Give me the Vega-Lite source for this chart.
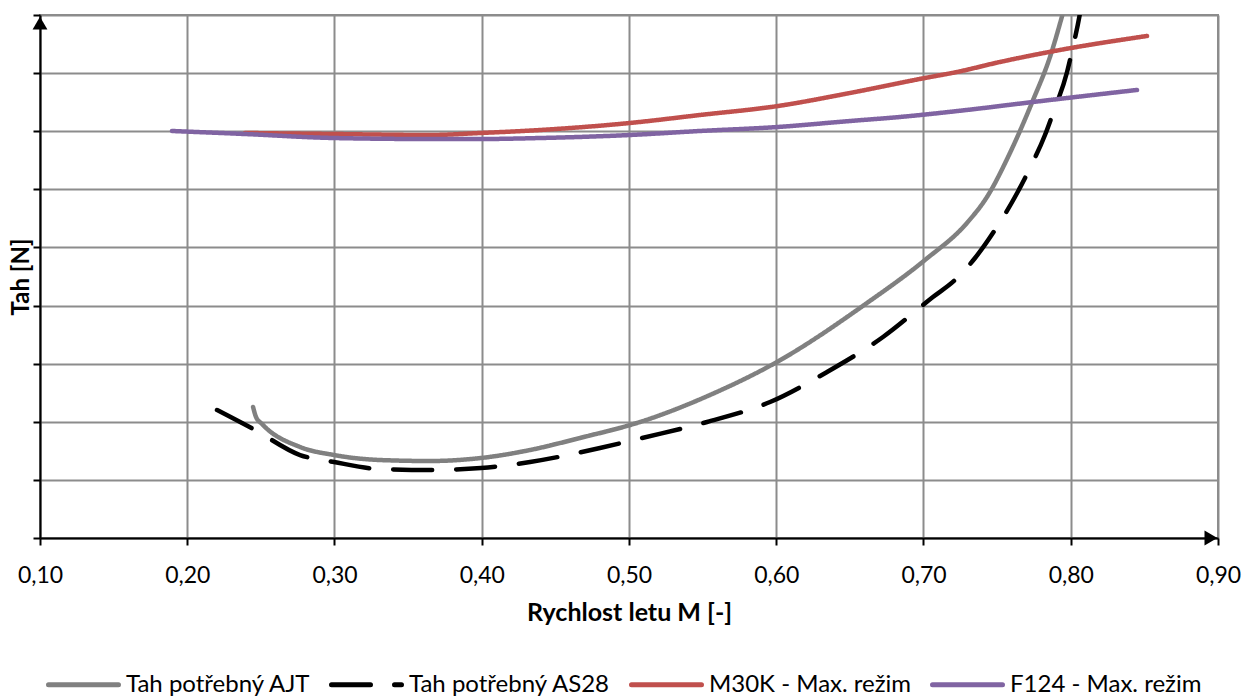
{
  "$schema": "https://vega.github.io/schema/vega-lite/v6.json",
  "width": 1178,
  "height": 523,
  "autosize": {"type": "none"},
  "padding": {"left": 40, "top": 15, "right": 28, "bottom": 158},
  "background": "white",
  "config": {
    "view": {"stroke": "#8c8c8c", "strokeWidth": 2},
    "font": "Lato",
    "axis": {
      "gridColor": "#8c8c8c",
      "gridWidth": 2,
      "gridOpacity": 1,
      "domainColor": "black",
      "domainWidth": 2,
      "tickColor": "black",
      "tickWidth": 2,
      "tickSize": 7,
      "labelFont": "Lato",
      "titleFont": "Lato",
      "labelColor": "black",
      "titleColor": "black"
    }
  },
  "layer": [
    {
      "data": {
        "values": [
          {"series": "Tah potřebný AJT", "M": 0.2447, "T": 2.254},
          {"series": "Tah potřebný AJT", "M": 0.2467, "T": 2.082},
          {"series": "Tah potřebný AJT", "M": 0.2508, "T": 1.962},
          {"series": "Tah potřebný AJT", "M": 0.2766, "T": 1.566},
          {"series": "Tah potřebný AJT", "M": 0.2997, "T": 1.428},
          {"series": "Tah potřebný AJT", "M": 0.3309, "T": 1.342},
          {"series": "Tah potřebný AJT", "M": 0.3649, "T": 1.325},
          {"series": "Tah potřebný AJT", "M": 0.3995, "T": 1.377},
          {"series": "Tah potřebný AJT", "M": 0.4328, "T": 1.514},
          {"series": "Tah potřebný AJT", "M": 0.4667, "T": 1.721},
          {"series": "Tah potřebný AJT", "M": 0.5075, "T": 1.996},
          {"series": "Tah potřebný AJT", "M": 0.555, "T": 2.461},
          {"series": "Tah potřebný AJT", "M": 0.6005, "T": 3.029},
          {"series": "Tah potřebný AJT", "M": 0.6616, "T": 4.044},
          {"series": "Tah potřebný AJT", "M": 0.701, "T": 4.784},
          {"series": "Tah potřebný AJT", "M": 0.7295, "T": 5.421},
          {"series": "Tah potřebný AJT", "M": 0.7431, "T": 5.868},
          {"series": "Tah potřebný AJT", "M": 0.7587, "T": 6.625},
          {"series": "Tah potřebný AJT", "M": 0.7744, "T": 7.537},
          {"series": "Tah potřebný AJT", "M": 0.7859, "T": 8.277},
          {"series": "Tah potřebný AJT", "M": 0.7947, "T": 9.034},
          {"series": "Tah potřebný AJT", "M": 0.7981, "T": 9.345},
          {"series": "Tah potřebný AS28", "M": 0.2202, "T": 2.203},
          {"series": "Tah potřebný AS28", "M": 0.246, "T": 1.859},
          {"series": "Tah potřebný AS28", "M": 0.2766, "T": 1.428},
          {"series": "Tah potřebný AS28", "M": 0.2997, "T": 1.308},
          {"series": "Tah potřebný AS28", "M": 0.3309, "T": 1.187},
          {"series": "Tah potřebný AS28", "M": 0.3649, "T": 1.17},
          {"series": "Tah potřebný AS28", "M": 0.3995, "T": 1.205},
          {"series": "Tah potřebný AS28", "M": 0.4328, "T": 1.308},
          {"series": "Tah potřebný AS28", "M": 0.4803, "T": 1.549},
          {"series": "Tah potřebný AS28", "M": 0.5088, "T": 1.721},
          {"series": "Tah potřebný AS28", "M": 0.553, "T": 1.996},
          {"series": "Tah potřebný AS28", "M": 0.5958, "T": 2.34},
          {"series": "Tah potřebný AS28", "M": 0.6345, "T": 2.857},
          {"series": "Tah potřebný AS28", "M": 0.6725, "T": 3.459},
          {"series": "Tah potřebný AS28", "M": 0.7064, "T": 4.147},
          {"series": "Tah potřebný AS28", "M": 0.7214, "T": 4.44},
          {"series": "Tah potřebný AS28", "M": 0.735, "T": 4.818},
          {"series": "Tah potřebný AS28", "M": 0.7485, "T": 5.3},
          {"series": "Tah potřebný AS28", "M": 0.7621, "T": 5.868},
          {"series": "Tah potřebný AS28", "M": 0.7723, "T": 6.367},
          {"series": "Tah potřebný AS28", "M": 0.7825, "T": 6.935},
          {"series": "Tah potřebný AS28", "M": 0.788, "T": 7.314},
          {"series": "Tah potřebný AS28", "M": 0.7975, "T": 8.019},
          {"series": "Tah potřebný AS28", "M": 0.8015, "T": 8.45},
          {"series": "Tah potřebný AS28", "M": 0.8063, "T": 9.034},
          {"series": "Tah potřebný AS28", "M": 0.8083, "T": 9.345},
          {"series": "M30K - Max. režim", "M": 0.2392, "T": 6.97},
          {"series": "M30K - Max. režim", "M": 0.2997, "T": 6.952},
          {"series": "M30K - Max. režim", "M": 0.3649, "T": 6.935},
          {"series": "M30K - Max. režim", "M": 0.3995, "T": 6.97},
          {"series": "M30K - Max. režim", "M": 0.4396, "T": 7.021},
          {"series": "M30K - Max. režim", "M": 0.5007, "T": 7.142},
          {"series": "M30K - Max. režim", "M": 0.5482, "T": 7.279},
          {"series": "M30K - Max. režim", "M": 0.6012, "T": 7.434},
          {"series": "M30K - Max. režim", "M": 0.6501, "T": 7.658},
          {"series": "M30K - Max. režim", "M": 0.701, "T": 7.916},
          {"series": "M30K - Max. režim", "M": 0.7227, "T": 8.019},
          {"series": "M30K - Max. režim", "M": 0.7519, "T": 8.191},
          {"series": "M30K - Max. režim", "M": 0.7927, "T": 8.398},
          {"series": "M30K - Max. režim", "M": 0.8518, "T": 8.639},
          {"series": "F124 - Max. režim", "M": 0.1896, "T": 7.004},
          {"series": "F124 - Max. režim", "M": 0.2392, "T": 6.952},
          {"series": "F124 - Max. režim", "M": 0.2997, "T": 6.883},
          {"series": "F124 - Max. režim", "M": 0.3649, "T": 6.866},
          {"series": "F124 - Max. režim", "M": 0.3995, "T": 6.866},
          {"series": "F124 - Max. režim", "M": 0.4396, "T": 6.883},
          {"series": "F124 - Max. režim", "M": 0.5007, "T": 6.935},
          {"series": "F124 - Max. režim", "M": 0.5482, "T": 7.004},
          {"series": "F124 - Max. režim", "M": 0.6012, "T": 7.073},
          {"series": "F124 - Max. režim", "M": 0.6501, "T": 7.176},
          {"series": "F124 - Max. režim", "M": 0.684, "T": 7.245},
          {"series": "F124 - Max. režim", "M": 0.7295, "T": 7.366},
          {"series": "F124 - Max. režim", "M": 0.7744, "T": 7.503},
          {"series": "F124 - Max. režim", "M": 0.845, "T": 7.71}
        ]
      },
      "mark": {"type": "line", "strokeWidth": 4.5, "strokeCap": "round", "interpolate": "monotone", "clip": true},
      "encoding": {
        "x": {
          "field": "M", "type": "quantitative",
          "scale": {"domain": [0.1, 0.9], "nice": false, "zero": false},
          "axis": {
            "values": [0.1, 0.2, 0.3, 0.4, 0.5, 0.6, 0.7, 0.8, 0.9],
            "labelExpr": "replace(format(datum.value, '.2f'), '.', ',')",
            "labelFlush": false,
            "labelFontSize": 23,
            "labelPadding": 19,
            "title": "Rychlost letu M [-]",
            "titleFontSize": 25,
            "titleFontWeight": "bold",
            "titlePadding": 13
          }
        },
        "y": {
          "field": "T", "type": "quantitative",
          "scale": {"domain": [0, 9], "nice": false},
          "axis": {
            "values": [0, 1, 2, 3, 4, 5, 6, 7, 8, 9],
            "labels": false,
            "title": "Tah [N]",
            "titleFontSize": 24,
            "titleFontWeight": "bold",
            "titlePadding": -1
          }
        },
        "color": {
          "field": "series", "type": "nominal",
          "scale": {
            "domain": ["Tah potřebný AJT", "Tah potřebný AS28", "M30K - Max. režim", "F124 - Max. režim"],
            "range": ["#808080", "#000000", "#C0504D", "#8064A2"]
          },
          "legend": {
            "title": null,
            "orient": "none",
            "direction": "horizontal",
            "legendX": 6,
            "legendY": 632,
            "padding": 0,
            "symbolType": "stroke",
            "symbolSize": 4900,
            "symbolStrokeWidth": 5,
            "labelFontSize": 24,
            "labelFont": "Lato",
            "labelColor": "black",
            "labelOffset": 5,
            "columnPadding": 10,
            "labelLimit": 400,
            "encode": {"symbols": {"update": {"strokeCap": {"value": "round"}}}}
          }
        },
        "strokeDash": {
          "field": "series", "type": "nominal",
          "scale": {
            "domain": ["Tah potřebný AJT", "Tah potřebný AS28", "M30K - Max. režim", "F124 - Max. režim"],
            "range": [[1, 0], [39, 24], [1, 0], [1, 0]]
          },
          "legend": {
            "title": null,
            "orient": "none",
            "direction": "horizontal",
            "legendX": 6,
            "legendY": 632,
            "padding": 0,
            "symbolType": "stroke",
            "symbolSize": 4900,
            "symbolStrokeWidth": 5,
            "labelFontSize": 24,
            "labelFont": "Lato",
            "labelColor": "black",
            "labelOffset": 5,
            "columnPadding": 10,
            "labelLimit": 400,
            "encode": {"symbols": {"update": {"strokeCap": {"value": "round"}}}}
          }
        }
      }
    },
    {
      "data": {"values": [{"M": 0.8952, "T": 0}]},
      "mark": {"type": "point", "shape": "triangle-right", "filled": true, "color": "black", "opacity": 1, "size": 220},
      "encoding": {"x": {"field": "M", "type": "quantitative"}, "y": {"field": "T", "type": "quantitative"}}
    },
    {
      "data": {"values": [{"M": 0.1, "T": 8.86}]},
      "mark": {"type": "point", "shape": "triangle-up", "filled": true, "color": "black", "opacity": 1, "size": 220},
      "encoding": {"x": {"field": "M", "type": "quantitative"}, "y": {"field": "T", "type": "quantitative"}}
    }
  ]
}
